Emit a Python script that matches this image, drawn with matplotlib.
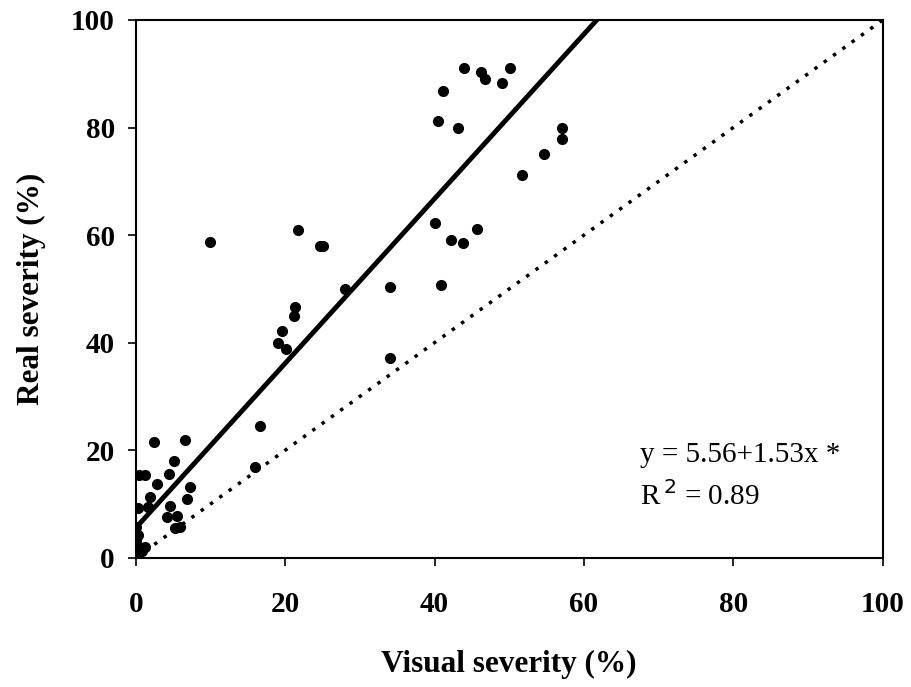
import matplotlib.pyplot as plt
import numpy as np

plt.rcParams['font.family'] = ['Liberation Serif', 'DejaVu Serif']

visual = [2.5, 6.6, 5.1, 0.5, 1.2, 4.5, 2.9, 7.3, 1.9, 6.9, 0.3, 1.6, 4.6,
          4.2, 5.5, 5.2, 5.9, 0.1, 0.3, 0.1, 0.5, 1.2, 0.1, 0.0, 0.8,
          21.7, 24.6, 25.1, 28.0, 34.1, 21.3, 21.2, 19.6, 19.0, 20.1, 34.0,
          16.6, 15.9, 9.9,
          43.9, 46.2, 46.8, 49.0, 50.1, 41.1, 40.5, 43.1, 57.0, 57.0, 54.7,
          51.7, 40.0, 42.2, 43.8, 45.7, 40.8]
real = [21.6, 21.9, 18.0, 15.4, 15.4, 15.6, 13.7, 13.1, 11.4, 11.0, 9.2, 9.4, 9.7,
        7.6, 7.7, 5.5, 5.8, 5.8, 4.3, 3.3, 2.1, 2.1, 0.7, 0.3, 1.2,
        61.0, 58.0, 58.0, 49.9, 50.4, 46.7, 44.9, 42.1, 40.0, 38.8, 37.1,
        24.6, 16.9, 58.7,
        91.0, 90.4, 89.0, 88.3, 91.1, 86.8, 81.2, 79.9, 79.9, 77.8, 75.1,
        71.2, 62.2, 59.1, 58.6, 61.1, 50.7]
intercept, slope = 5.56, 1.53
ticks = [0, 20, 40, 60, 80, 100]

fig = plt.figure(figsize=(9.11, 6.87), dpi=100)
ax = fig.add_axes([0.149, 0.188, 0.820, 0.783])

ax.plot([0, 100], [0, 100], color='black', linestyle=(0, (1, 2.3)), linewidth=2.5)
x_end = (100 - intercept) / slope
xs = np.array([0, x_end])
ax.plot(xs, intercept + slope * xs, color='black', linewidth=3.5)
ax.plot(visual, real, 'o', color='black', markersize=7)

ax.set_xlim(0, 100)
ax.set_ylim(0, 100)
ax.set_xticks(ticks)
ax.set_yticks(ticks)
for s in ax.spines.values():
    s.set_linewidth(1.5)
ax.tick_params(direction='out', length=6, width=1.2, labelsize=21)
ax.tick_params(axis='x', pad=18)
ax.tick_params(axis='y', pad=9)
for lab in ax.get_xticklabels() + ax.get_yticklabels():
    lab.set_fontweight('bold')

ax.set_xlabel('Visual severity (%)', fontsize=22.5, fontweight='bold', labelpad=23)
ax.set_ylabel('Real severity (%)', fontsize=22.5, fontweight='bold', labelpad=18)

ax.text(67.5, 17.8, 'y = 5.56+1.53x *', fontsize=21)
ax.text(67.5, 9.8, r'R$^{\,2}$ = 0.89', fontsize=21)

fig.savefig('out.png')
